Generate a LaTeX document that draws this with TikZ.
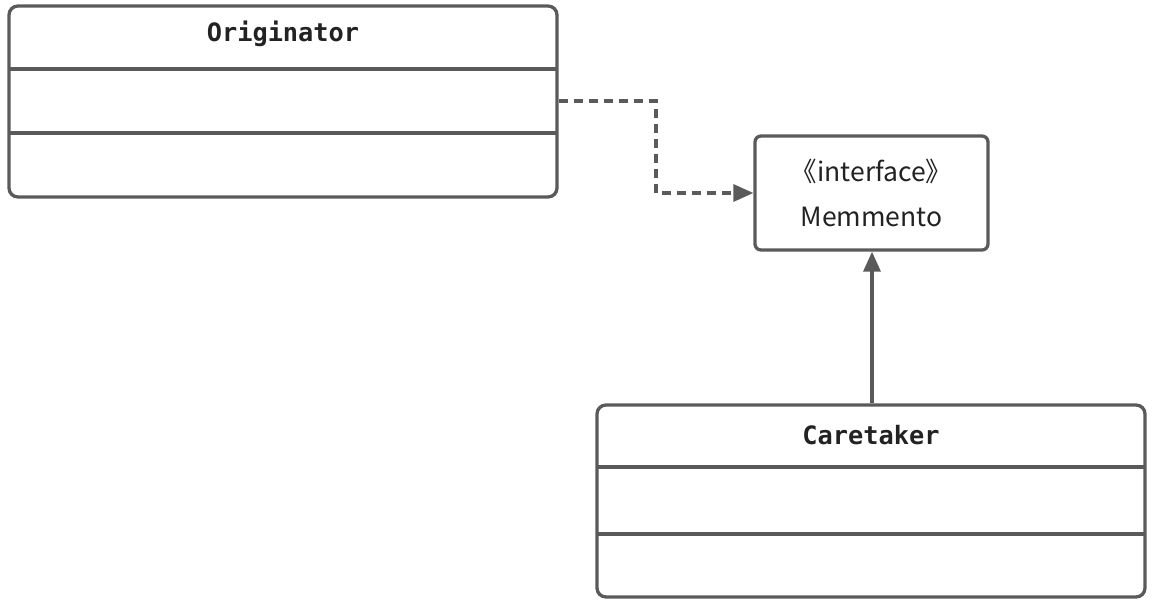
\documentclass[tikz,border=0pt]{standalone}
\usepackage{fontspec}
\newfontfamily\monob{DejaVu Sans Mono}
\newfontfamily\cjk{Noto Sans CJK SC}
\usetikzlibrary{arrows.meta}
\definecolor{ln}{HTML}{5A5A5A}
\definecolor{tx}{HTML}{222222}
\tikzset{
  box/.style={draw=ln, line width=3.3pt, rounded corners=9pt, inner sep=0pt},
  sep/.style={draw=ln, line width=3.3pt},
  title/.style={font=\monob\bfseries\fontsize{25.3}{28}\selectfont, text=tx},
  itext/.style={font=\cjk\fontsize{26.5}{30}\selectfont, text=tx},
  conn/.style={draw=ln, line width=3.3pt, -{Triangle[length=20pt,width=17pt]}},
}
\begin{document}
\begin{tikzpicture}[x=1pt,y=-1pt]
\useasboundingbox (0,0) rectangle (1159,602);
% Originator
\node[box, minimum width=548pt, minimum height=191pt] (orig) at (283,101.5) {};
\draw[sep] (9,69) -- (557,69);
\draw[sep] (9,133) -- (557,133);
\node[title] (origt) at (283,34) {Originator};
% Caretaker
\node[box, minimum width=548pt, minimum height=192pt] (care) at (871,501) {};
\draw[sep] (597,467) -- (1145,467);
\draw[sep] (597,534) -- (1145,534);
\node[title] (caret) at (871,435) {Caretaker};
% Memento
\node[box, rounded corners=6pt, minimum width=233pt, minimum height=114pt] (mem) at (871.5,193) {};
\node[itext] (memi) at (871.5,171) {《interface》};
\node[itext] (memn) at (871.5,217) {Memmento};
% connectors
\draw[conn, dash pattern=on 9pt off 6pt] (orig.east |- 0,101) -- (656,101) -- (656,193) -- (mem.west);
\draw[conn] (care.north -| 872,0) -- (mem.south -| 872,0);
\end{tikzpicture}
\end{document}
